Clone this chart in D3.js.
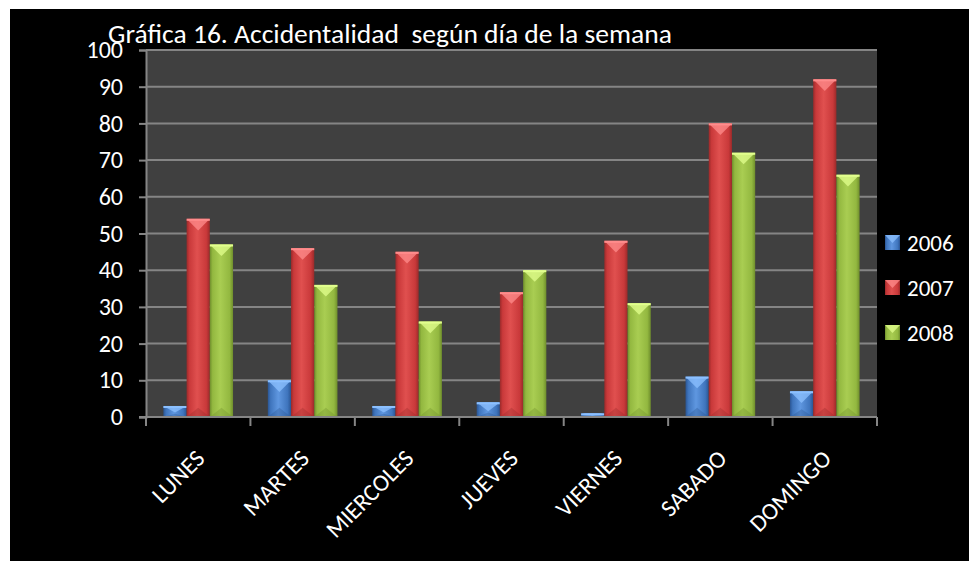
<!DOCTYPE html>
<html><head><meta charset="utf-8">
<script src="https://cdnjs.cloudflare.com/ajax/libs/d3/7.8.5/d3.min.js"></script>
<style>html,body{margin:0;padding:0;background:#fff;}svg{display:block;}</style>
</head><body>
<svg id="c" width="969" height="561"></svg>
<script>
const categories = ["LUNES","MARTES","MIERCOLES","JUEVES","VIERNES","SABADO","DOMINGO"];
const seriesNames = ["2006","2007","2008"];
const v2006 = [3,10,3,4,1,11,7];
const v2007 = [54,46,45,34,48,80,92];
const v2008 = [47,36,26,40,31,72,66];
const yTicks = [0,10,20,30,40,50,60,70,80,90,100];
const title = "Gráfica 16. Accidentalidad  según día de la semana";

const values = [v2006, v2007, v2008];
const colors = [
  {base:"#3f75bd", light:"#5f97e0", dark:"#2a5593", top:"#8cc0ff"},
  {base:"#c9393a", light:"#e0504f", dark:"#9a2a2a", top:"#ff8c8c"},
  {base:"#93b840", light:"#a9cd52", dark:"#6f8e2c", top:"#e2ff8e"}
];
const FONT = "Carlito, Calibri, Lato, sans-serif";

const svg = d3.select("#c");
svg.append("rect").attr("x",10).attr("y",9).attr("width",959).attr("height",552).attr("fill","#000");

const m = {left:146, right:877, top:50, bottom:417};
const x = d3.scaleBand().domain(categories).range([m.left, m.right]).paddingInner(0.333).paddingOuter(0.1665);
const xs = d3.scaleBand().domain(seriesNames).range([0, x.bandwidth()]);
const y = d3.scaleLinear().domain([0,100]).range([m.bottom, m.top]);

const defs = svg.append("defs");
colors.forEach((c,i)=>{
  const g = defs.append("linearGradient").attr("id","g"+i).attr("x1","0").attr("x2","1").attr("y1","0").attr("y2","0");
  g.append("stop").attr("offset","0").attr("stop-color",c.dark);
  g.append("stop").attr("offset","0.12").attr("stop-color",c.base);
  g.append("stop").attr("offset","0.45").attr("stop-color",c.light);
  g.append("stop").attr("offset","0.85").attr("stop-color",c.base);
  g.append("stop").attr("offset","1").attr("stop-color",c.dark);
});

// plot background
svg.append("rect").attr("x",m.left).attr("y",m.top).attr("width",m.right-m.left).attr("height",m.bottom-m.top).attr("fill","#404040");

// gridlines
svg.append("g").selectAll("line").data(yTicks.filter(t=>t>0)).join("line")
  .attr("x1",m.left).attr("x2",m.right).attr("y1",d=>y(d)).attr("y2",d=>y(d))
  .attr("stroke","#858585").attr("stroke-width",2);

// bars
const groups = svg.append("g").selectAll("g").data(categories).join("g")
  .attr("transform",d=>`translate(${x(d)},0)`);
seriesNames.forEach((s,si)=>{
  groups.each(function(cat,ci){
    const val = values[si][ci];
    const g = d3.select(this);
    const bx = xs(s), bw = xs.bandwidth();
    const by = y(val), bh = y(0)-y(val);
    g.append("rect").attr("x",bx).attr("y",by).attr("width",bw).attr("height",bh).attr("fill",`url(#g${si})`);
    const tri = Math.min(bw*0.5, bh*0.6);
    g.append("path").attr("d",`M${bx},${by}L${bx+bw},${by}L${bx+bw/2},${by+tri}Z`).attr("fill",colors[si].top).attr("opacity",0.75);
    g.append("rect").attr("x",bx).attr("y",by).attr("width",bw).attr("height",Math.min(2,bh)).attr("fill",colors[si].top);
    if (bh>10) g.append("path").attr("d",`M${bx},${y(0)}L${bx+bw},${y(0)}L${bx+bw/2},${y(0)-Math.min(bw*0.4,bh*0.3)}Z`).attr("fill",colors[si].dark).attr("opacity",0.35);
  });
});

// axes
const ya = svg.append("g").attr("transform",`translate(${m.left},0)`)
  .call(d3.axisLeft(y).tickValues(yTicks).tickSize(7).tickPadding(16));
ya.select(".domain").attr("stroke","#858585").attr("stroke-width",2);
ya.selectAll(".tick line").attr("stroke","#858585").attr("stroke-width",2);
ya.selectAll("text").attr("fill","#fff").attr("font-size","24px").attr("font-family",FONT);

const bounds = categories.map(c=>x(c)-x.step()*x.paddingInner()/2).concat([m.right]);
svg.append("line").attr("x1",m.left-7).attr("x2",m.right).attr("y1",m.bottom).attr("y2",m.bottom).attr("stroke","#858585").attr("stroke-width",2);
svg.append("g").selectAll("line").data(bounds).join("line")
  .attr("x1",d=>d).attr("x2",d=>d).attr("y1",m.bottom).attr("y2",m.bottom+9)
  .attr("stroke","#858585").attr("stroke-width",2);
svg.append("g").selectAll("text").data(categories).join("text")
  .attr("transform",d=>`translate(${x(d)+x.bandwidth()/2+2},${m.bottom+37}) rotate(-45)`)
  .attr("text-anchor","end").attr("dy","0.35em")
  .attr("fill","#fff").attr("font-size","24px").attr("font-family",FONT).text(d=>d);

// title
const t = svg.append("text").attr("x",108).attr("y",43).attr("fill","#fff").attr("font-family",FONT)
  .attr("font-size","24px").style("white-space","pre").attr("xml:space","preserve").text(title);
const tw = t.node().getComputedTextLength();
t.attr("font-size", (24*564/tw).toFixed(2)+"px");

// legend
const lg = svg.append("g").selectAll("g").data(seriesNames).join("g")
  .attr("transform",(d,i)=>`translate(885,${235+i*45})`);
lg.append("rect").attr("width",15).attr("height",15).attr("fill",(d,i)=>`url(#g${i})`);
lg.append("path").attr("d","M0,0L15,0L7.5,8Z").attr("fill",(d,i)=>colors[i].top).attr("opacity",0.75);
lg.append("text").attr("x",22).attr("y",7.5).attr("dy","0.35em").attr("fill","#fff")
  .attr("font-size","23px").attr("font-family",FONT).text(d=>d);
</script>
</body></html>
